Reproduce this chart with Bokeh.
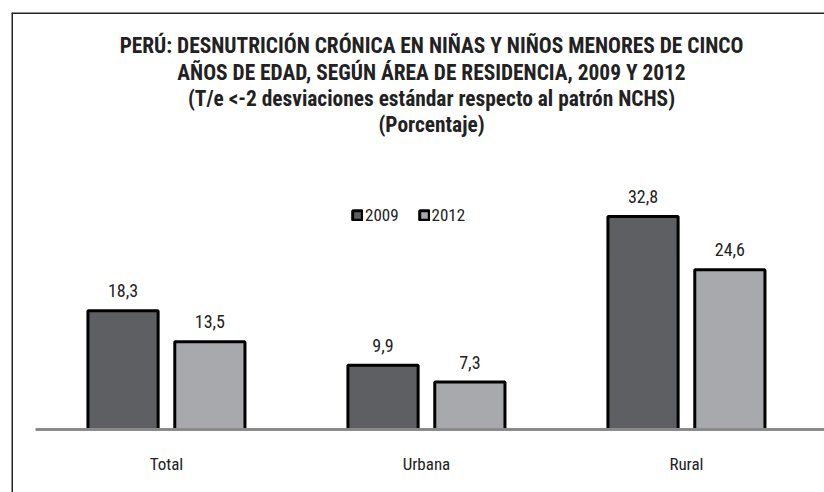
from bokeh.plotting import figure
from bokeh.models import (Range1d, LinearAxis, FixedTicker, LabelSet, Label, Span,
                          ColumnDataSource, Legend, LegendItem)
from bokeh.core.properties import value
from bokeh.embed import file_html
from bokeh.resources import INLINE

# ---- data ----
categories = ["Total", "Urbana", "Rural"]
years = ["2009", "2012"]
values_2009 = [18.3, 9.9, 32.8]
values_2012 = [13.5, 7.3, 24.6]
title_lines = [
    "PERÚ: DESNUTRICIÓN CRÓNICA EN NIÑAS Y NIÑOS MENORES DE CINCO",
    "AÑOS DE EDAD, SEGÚN ÁREA DE RESIDENCIA, 2009 Y 2012",
    "(T/e <-2 desviaciones estándar respecto al patrón NCHS)",
    "(Porcentaje)",
]

FONT = "Roboto Condensed, Roboto"
DARK = "#5e5f63"
LIGHT = "#a8a9ac"
TXT = "#222222"

x_lo, x_hi = -0.596, 2.531
y_lo, y_hi = -9.7, 64.2

p = figure(width=824, height=492, output_backend="svg", toolbar_location=None,
           x_range=Range1d(x_lo, x_hi), y_range=Range1d(y_lo, y_hi),
           min_border_left=11, min_border_top=12, min_border_right=0, min_border_bottom=0,
           x_axis_type=None, y_axis_type=None)
p.outline_line_color = None
p.grid.visible = False
p.background_fill_color = "white"
p.border_fill_color = "white"

idx = list(range(len(categories)))
off = 0.167
bw = 0.27
src = ColumnDataSource(dict(
    x1=[i - off for i in idx], x2=[i + off for i in idx],
    v1=values_2009, v2=values_2012,
    t1=[f"{v:.1f}".replace(".", ",") for v in values_2009],
    t2=[f"{v:.1f}".replace(".", ",") for v in values_2012],
))

r1 = p.vbar(x="x1", top="v1", bottom=0, width=bw, source=src,
            fill_color=DARK, line_color="black", line_width=3)
r2 = p.vbar(x="x2", top="v2", bottom=0, width=bw, source=src,
            fill_color=LIGHT, line_color="black", line_width=3)

for xc, yc, tc in (("x1", "v1", "t1"), ("x2", "v2", "t2")):
    p.add_layout(LabelSet(x=xc, y=yc, text=tc, source=src,
                          text_align="center", text_baseline="middle", y_offset=20,
                          text_font=value(FONT), text_font_size="18px", text_color=TXT))

# baseline axis with category labels
xaxis = LinearAxis(fixed_location=0, ticker=FixedTicker(ticks=idx),
                   major_label_overrides={i: c for i, c in zip(idx, categories)},
                   bounds=(-0.504, x_hi))
xaxis.axis_line_color = "#8a8a8a"
xaxis.axis_line_width = 3
xaxis.major_tick_line_color = None
xaxis.minor_tick_line_color = None
xaxis.major_label_standoff = 19
xaxis.major_label_text_font = FONT
xaxis.major_label_text_font_size = "17px"
xaxis.major_label_text_color = TXT
p.add_layout(xaxis, "below")

# outer border (left and top)
p.add_layout(Span(location=x_lo, dimension="height", line_color="#222222", line_width=3))
p.add_layout(Span(location=y_hi, dimension="width", line_color="#222222", line_width=3))

# title
ys = [447, 420, 394, 368]
for t, yy in zip(title_lines, ys):
    p.add_layout(Label(x=420, y=yy, x_units="screen", y_units="screen", text=t,
                       text_align="center", text_baseline="middle",
                       text_font=FONT, text_font_size="21.4px",
                       text_font_style="bold", text_color=TXT))

legend = Legend(items=[LegendItem(label=years[0], renderers=[r1]),
                       LegendItem(label=years[1], renderers=[r2])],
                location=(340, 267), orientation="horizontal",
                glyph_width=12, glyph_height=12, label_height=17,
                label_text_font=FONT, label_text_font_size="17px", label_text_color=TXT,
                label_standoff=2, spacing=19, padding=0, margin=0,
                background_fill_alpha=0, border_line_color=None)
p.add_layout(legend)

open("out.html", "w").write(file_html(p, INLINE))
